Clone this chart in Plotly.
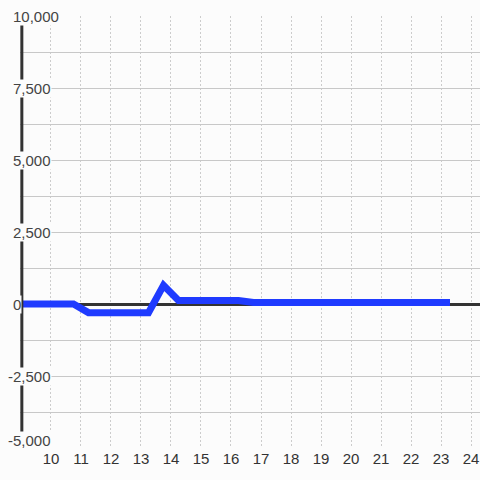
import plotly.graph_objects as go

# hour of day vs value
hours = [9.0, 10.75, 11.25, 13.25, 13.75, 14.25, 16.25, 16.75, 23.3]
values = [0, 0, -300, -300, 650, 120, 120, 50, 50]

x_ticks = list(range(10, 25))
y_ticks = [-5000, -2500, 0, 2500, 5000, 7500, 10000]
y_labels = ["-5,000", "-2,500", "0", "2,500", "5,000", "7,500", "10,000"]

bg = "#fcfcfc"

fig = go.Figure()
fig.add_trace(go.Scatter(
    x=hours, y=values, mode="lines",
    line=dict(color="#1f3bff", width=7),
    hoverinfo="skip", showlegend=False,
))

fig.update_xaxes(
    range=[8.967, 24.3],
    tickvals=x_ticks,
    ticktext=[str(t) for t in x_ticks],
    showgrid=True, gridcolor="#cccccc", griddash="2px,2px", gridwidth=1,
    zeroline=False, showline=False, ticks="", automargin=False,
    tickfont=dict(family="Liberation Sans", size=15, color="#333"),
)
fig.update_yaxes(
    range=[-5000, 10000],
    dtick=1250, tick0=0,
    showgrid=True, gridcolor="#c8c8c8", gridwidth=1,
    zeroline=True, zerolinecolor="#333", zerolinewidth=3,
    showline=False, showticklabels=False, ticks="", automargin=False,
)

# y axis line
fig.add_shape(type="line", xref="paper", yref="paper", x0=0.004, x1=0.004, y0=0, y1=1,
              line=dict(color="#333", width=3), layer="above")

# y tick labels sitting on the axis with a background patch
for v, lab in zip(y_ticks, y_labels):
    bottom = v == y_ticks[0]
    fig.add_annotation(
        x=0, xref="paper", y=v, yref="y", text=lab, showarrow=False,
        xanchor="left", yanchor="bottom" if bottom else "middle",
        xshift=-13 if lab.startswith("-") else -8,
        yshift=-2 if bottom else 0,
        bgcolor=bg, borderpad=0,
        font=dict(family="Liberation Sans", size=15, color="#444"),
    )

fig.update_layout(
    width=480, height=480,
    margin=dict(l=20, r=0, t=16, b=32),
    paper_bgcolor=bg, plot_bgcolor=bg,
)

fig.write_html("out.html", config={"displayModeBar": False},
               post_script="document.body.style.margin='0';")
